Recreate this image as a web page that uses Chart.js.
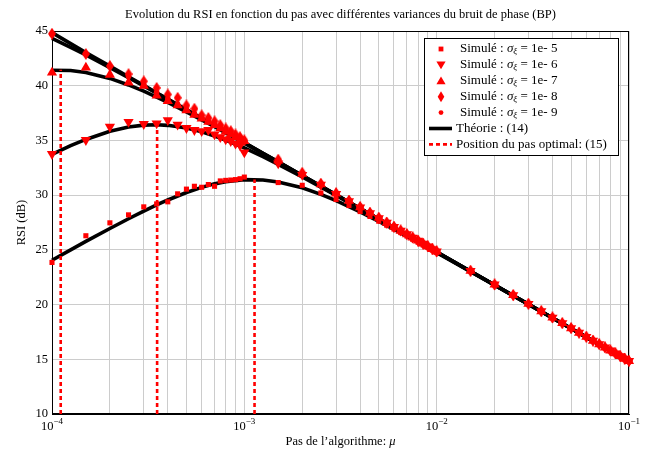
<!DOCTYPE html>
<html>
<head>
<meta charset="utf-8">
<script src="https://cdn.jsdelivr.net/npm/chart.js@4.4.1/dist/chart.umd.min.js"></script>
<style>
    html, body { margin: 0; padding: 0; background: #fff; }
</style>
</head>
<body>
<canvas id="rsi" width="655" height="452"></canvas>
<script>
// step sizes used for the simulations
const mu = [
    1e-4, 1.5e-4, 2e-4, 2.5e-4, 3e-4, 3.5e-4, 4e-4, 4.5e-4, 5e-4, 5.5e-4, 6e-4, 6.5e-4, 7e-4, 7.5e-4, 8e-4, 8.5e-4, 9e-4, 9.5e-4,
    1e-3, 1.5e-3, 2e-3, 2.5e-3, 3e-3, 3.5e-3, 4e-3, 4.5e-3, 5e-3, 5.5e-3, 6e-3, 6.5e-3, 7e-3, 7.5e-3, 8e-3, 8.5e-3, 9e-3, 9.5e-3,
    1e-2, 1.5e-2, 2e-2, 2.5e-2, 3e-2, 3.5e-2, 4e-2, 4.5e-2, 5e-2, 5.5e-2, 6e-2, 6.5e-2, 7e-2, 7.5e-2, 8e-2, 8.5e-2, 9e-2, 9.5e-2,
    1e-1
];

// simulated RSI (dB), one list per phase noise variance
const sim5 = [
    23.85, 26.29, 27.47, 28.20, 28.93, 29.20, 29.39, 30.12, 30.55, 30.81, 30.72, 30.97, 30.81, 31.30, 31.35, 31.38, 31.42, 31.50,
    31.65, 31.15, 30.90, 30.20, 29.60, 29.05, 28.50, 28.05, 27.62, 27.25, 26.90, 26.58, 26.27, 25.97, 25.70, 25.45, 25.22, 24.98,
    24.76, 23.05, 21.80, 20.82, 20.03, 19.37, 18.78, 18.28, 17.81, 17.40, 17.03, 16.68, 16.35, 16.06, 15.78, 15.51, 15.27, 15.03,
    14.82
];
const sim6 = [
    33.76, 35.04, 36.25, 36.70, 36.50, 36.55, 36.85, 36.44, 36.13, 35.95, 35.85, 35.95, 35.55, 35.30, 35.10, 34.95, 34.70, 34.55,
    33.90, 32.90, 31.85, 30.95, 30.12, 29.45, 28.88, 28.36, 27.90, 27.48, 27.10, 26.75, 26.42, 26.12, 25.83, 25.57, 25.32, 25.07,
    24.85, 23.08, 21.83, 20.85, 20.06, 19.39, 18.81, 18.30, 17.84, 17.43, 17.05, 16.70, 16.38, 16.08, 15.80, 15.54, 15.29, 15.05,
    14.84
];
const sim7 = [
    41.20, 41.66, 41.00, 40.30, 40.00, 39.10, 38.60, 38.20, 37.75, 37.35, 37.00, 36.70, 36.40, 36.10, 35.80, 35.55, 35.30, 35.05,
    34.95, 33.15, 31.95, 31.00, 30.15, 29.48, 28.90, 28.38, 27.92, 27.48, 27.10, 26.75, 26.42, 26.12, 25.84, 25.57, 25.32, 25.08,
    24.85, 23.08, 21.83, 20.86, 20.06, 19.39, 18.81, 18.30, 17.84, 17.43, 17.05, 16.70, 16.38, 16.08, 15.80, 15.54, 15.29, 15.05,
    14.84
];
const sim8 = [
    44.75, 42.90, 41.80, 41.06, 40.40, 39.80, 39.20, 38.90, 38.20, 37.90, 37.30, 37.05, 36.75, 36.40, 36.10, 35.85, 35.55, 35.30,
    35.00, 33.25, 32.05, 31.05, 30.18, 29.50, 28.92, 28.40, 27.93, 27.50, 27.12, 26.77, 26.44, 26.13, 25.85, 25.58, 25.33, 25.09,
    24.86, 23.09, 21.84, 20.87, 20.07, 19.40, 18.82, 18.31, 17.85, 17.44, 17.06, 16.71, 16.39, 16.09, 15.81, 15.55, 15.30, 15.06,
    14.85
];
const sim9 = [
    44.70, 42.95, 41.75, 40.85, 40.05, 39.40, 38.80, 38.30, 37.85, 37.45, 37.05, 36.70, 36.40, 36.10, 35.80, 35.55, 35.30, 35.05,
    34.90, 33.12, 31.95, 31.00, 30.15, 29.47, 28.89, 28.37, 27.91, 27.48, 27.10, 26.75, 26.42, 26.12, 25.83, 25.57, 25.32, 25.07,
    24.84, 23.08, 21.83, 20.85, 20.06, 19.39, 18.81, 18.30, 17.84, 17.43, 17.05, 16.70, 16.38, 16.08, 15.80, 15.54, 15.29, 15.05,
    14.83
];

// theory curves (14)
const thMu = [1e-4, 1.25e-4, 1.5e-4, 2e-4, 2.5e-4, 3e-4, 3.5e-4, 4e-4, 5e-4, 6e-4, 7e-4, 8e-4, 1e-3,
    1.25e-3, 1.5e-3, 2e-3, 2.5e-3, 3e-3, 4e-3, 5e-3, 7e-3, 1e-2, 2e-2, 5e-2, 1e-1];
const th5 = [24.05, 25.00, 25.77, 26.95, 27.84, 28.54, 29.10, 29.56, 30.24, 30.71, 31.03, 31.23, 31.42,
    31.39, 31.21, 30.67, 30.07, 29.50, 28.47, 27.61, 26.25, 24.75, 21.78, 17.81, 14.80];
const th6 = [33.73, 34.52, 35.09, 35.83, 36.22, 36.40, 36.43, 36.38, 36.13, 35.79, 35.41, 35.04, 34.32,
    33.51, 32.82, 31.66, 30.74, 29.97, 28.75, 27.79, 26.34, 24.80, 21.79, 17.81, 14.80];
const th7 = [41.42, 41.39, 41.21, 40.67, 40.07, 39.50, 38.96, 38.47, 37.61, 36.88, 36.25, 35.69, 34.75,
    33.80, 33.02, 31.78, 30.81, 30.02, 28.78, 27.81, 26.35, 24.80, 21.79, 17.81, 14.80];
const th8 = [44.32, 43.51, 42.82, 41.66, 40.74, 39.97, 39.32, 38.75, 37.79, 37.01, 36.34, 35.76, 34.79,
    33.83, 33.04, 31.79, 30.82, 30.03, 28.78, 27.81, 26.35, 24.80, 21.79, 17.81, 14.80];
const th9 = [44.85, 43.85, 43.04, 41.79, 40.82, 40.03, 39.36, 38.78, 37.81, 37.02, 36.35, 35.77, 34.80,
    33.83, 33.04, 31.79, 30.82, 30.03, 28.78, 27.81, 26.35, 24.80, 21.79, 17.81, 14.80];

// optimal step (15) and the RSI reached there
const optMu = [1.11e-4, 3.52e-4, 1.13e-3];
const optRsi = [41.45, 36.45, 31.42];

const yTicks = [10, 15, 20, 25, 30, 35, 40, 45];
const xDecades = [-4, -3, -2, -1];
const variances = ['5', '6', '7', '8', '9'];

const SERIF = '"Liberation Serif", "Times New Roman", serif';
const RED = '#ff0000';

function diamond(w, h) {
    const c = document.createElement('canvas');
    c.width = w;
    c.height = h;
    const g = c.getContext('2d');
    g.fillStyle = RED;
    g.beginPath();
    g.moveTo(w / 2, 0);
    g.lineTo(w, h / 2);
    g.lineTo(w / 2, h);
    g.lineTo(0, h / 2);
    g.closePath();
    g.fill();
    return c;
}

const pts = (xs, ys) => xs.map((x, i) => ({x: x, y: ys[i]}));

const markers = [
    {pointStyle: 'rect', pointRadius: 3.6, pointRotation: 0},
    {pointStyle: 'triangle', pointRadius: 5.9, pointRotation: 180},
    {pointStyle: 'triangle', pointRadius: 5.9, pointRotation: 0},
    {pointStyle: diamond(8, 12), pointRadius: 6, pointRotation: 0},
    {pointStyle: 'circle', pointRadius: 2.8, pointRotation: 0}
];

const datasets = [];
[sim5, sim6, sim7, sim8, sim9].forEach((s, i) => {
    datasets.push(Object.assign({
        data: pts(mu, s),
        showLine: false,
        backgroundColor: RED,
        borderColor: RED,
        pointBorderWidth: 0,
        clip: false,
        order: 5 - i
    }, markers[i]));
});
[th5, th6, th7, th8, th9].forEach(t => {
    datasets.push({
        data: pts(thMu, t),
        showLine: true,
        borderColor: '#000',
        borderWidth: 3.6,
        pointRadius: 0,
        tension: 0,
        clip: false,
        order: 20
    });
});
optMu.forEach((m, i) => {
    datasets.push({
        data: [{x: m, y: 10}, {x: m, y: optRsi[i]}],
        showLine: true,
        borderColor: RED,
        borderWidth: 2.6,
        borderDash: [4, 3],
        borderCapStyle: 'butt',
        pointRadius: 0,
        order: 15
    });
});

function legendMarker(ctx, i, x, y) {
    ctx.fillStyle = RED;
    ctx.beginPath();
    if (i === 0) {
        ctx.rect(x - 2.4, y - 2.4, 4.8, 4.8);
    } else if (i === 1) {
        ctx.moveTo(x - 4.6, y - 3.4); ctx.lineTo(x + 4.6, y - 3.4); ctx.lineTo(x, y + 4.4);
    } else if (i === 2) {
        ctx.moveTo(x - 4.6, y + 3.4); ctx.lineTo(x + 4.6, y + 3.4); ctx.lineTo(x, y - 4.4);
    } else if (i === 3) {
        ctx.moveTo(x, y - 5.5); ctx.lineTo(x + 3.3, y); ctx.lineTo(x, y + 5.5); ctx.lineTo(x - 3.3, y);
    } else {
        ctx.arc(x, y, 2.4, 0, Math.PI * 2);
    }
    ctx.closePath();
    ctx.fill();
}

const decor = {
    id: 'decor',
    beforeDatasetsDraw(chart) {
        const {ctx, chartArea: a} = chart;
        ctx.save();
        ctx.strokeStyle = '#000';
        ctx.lineWidth = 1;
        ctx.strokeRect(a.left + 0.5, a.top + 0.5, a.right - a.left - 1, a.bottom - a.top - 1);
        ctx.restore();
    },
    afterDraw(chart) {
        const {ctx, chartArea: a} = chart;
        const xs = chart.scales.x;
        const cx = (a.left + a.right) / 2;
        ctx.save();
        ctx.fillStyle = '#000';
        ctx.textBaseline = 'alphabetic';

        // title and axis titles
        ctx.font = '12.5px ' + SERIF;
        ctx.textAlign = 'center';
        ctx.fillText('Evolution du RSI en fonction du pas avec différentes variances du bruit de phase (BP)', cx, 18);

        const xt1 = 'Pas de l\u2019algorithme: ';
        ctx.font = '12.5px ' + SERIF;
        const w1 = ctx.measureText(xt1).width;
        ctx.font = 'italic 12.5px ' + SERIF;
        const w2 = ctx.measureText('\u03bc').width;
        ctx.textAlign = 'left';
        ctx.font = '12.5px ' + SERIF;
        ctx.fillText(xt1, cx - (w1 + w2) / 2, 445);
        ctx.font = 'italic 12.5px ' + SERIF;
        ctx.fillText('\u03bc', cx - (w1 + w2) / 2 + w1, 445);

        ctx.save();
        ctx.translate(21, (a.top + a.bottom) / 2);
        ctx.rotate(-Math.PI / 2);
        ctx.textAlign = 'center';
        ctx.font = '12.5px ' + SERIF;
        ctx.fillText('RSI (dB)', 0, 4);
        ctx.restore();

        // decade tick labels 10^e
        xDecades.forEach(e => {
            const px = xs.getPixelForValue(Math.pow(10, e));
            ctx.font = '12.5px ' + SERIF;
            const b = ctx.measureText('10').width;
            const sup = '\u2212' + Math.abs(e);
            ctx.font = '9px ' + SERIF;
            const s = ctx.measureText(sup).width;
            const x0 = px - (b + s) / 2;
            ctx.textAlign = 'left';
            ctx.font = '12.5px ' + SERIF;
            ctx.fillText('10', x0, 430);
            ctx.font = '9px ' + SERIF;
            ctx.fillText(sup, x0 + b, 424);
        });

        // legend
        const L = 424, T = 38, R = 619, B = 156;
        ctx.fillStyle = '#fff';
        ctx.fillRect(L, T, R - L, B - T);
        ctx.strokeStyle = '#000';
        ctx.lineWidth = 1;
        ctx.strokeRect(L + 0.5, T + 0.5, R - L - 1, B - T - 1);
        const rowY = i => 49 + 15.9 * i;
        ctx.textBaseline = 'middle';
        ctx.textAlign = 'left';
        variances.forEach((v, i) => {
            const y = rowY(i);
            legendMarker(ctx, i, 441, y);
            ctx.fillStyle = '#000';
            let x = 460;
            ctx.font = '13px ' + SERIF;
            ctx.fillText('Simulé : ', x, y);
            x += ctx.measureText('Simulé : ').width;
            ctx.font = 'italic 13px ' + SERIF;
            ctx.fillText('\u03c3', x, y);
            x += ctx.measureText('\u03c3').width;
            ctx.font = 'italic 9px ' + SERIF;
            ctx.fillText('\u03be', x, y + 3);
            x += ctx.measureText('\u03be').width;
            ctx.font = '13px ' + SERIF;
            ctx.fillText(' = 1e- ' + v, x, y);
        });
        let y = rowY(5);
        ctx.strokeStyle = '#000';
        ctx.lineWidth = 3.6;
        ctx.beginPath(); ctx.moveTo(429, y); ctx.lineTo(452, y); ctx.stroke();
        ctx.fillStyle = '#000';
        ctx.font = '13px ' + SERIF;
        ctx.fillText('Théorie : (14)', 456, y);
        y = rowY(6);
        ctx.strokeStyle = RED;
        ctx.lineWidth = 2.6;
        ctx.setLineDash([4, 3]);
        ctx.beginPath(); ctx.moveTo(429, y); ctx.lineTo(452, y); ctx.stroke();
        ctx.setLineDash([]);
        ctx.fillText('Position du pas optimal: (15)', 456, y);
        ctx.restore();
    }
};

new Chart(document.getElementById('rsi'), {
    type: 'scatter',
    data: {datasets: datasets},
    options: {
        responsive: false,
        animation: false,
        devicePixelRatio: 1,
        layout: {padding: {top: 31, right: 26, left: 0, bottom: 0}},
        plugins: {legend: {display: false}, tooltip: {enabled: false}},
        scales: {
            x: {
                type: 'logarithmic',
                min: 1e-4,
                max: 1e-1,
                afterBuildTicks: scale => {
                    const ticks = [];
                    xDecades.forEach(e => {
                        for (let m = 1; m <= 9; m++) {
                            const v = m * Math.pow(10, e - 1);
                            if (v >= 1e-4 - 1e-12) ticks.push({value: v});
                        }
                    });
                    ticks.push({value: 1e-1});
                    scale.ticks = ticks;
                },
                afterFit: scale => { scale.height = 38; },
                ticks: {callback: () => '', autoSkip: false, maxRotation: 0},
                grid: {color: '#cccccc', lineWidth: 1, drawTicks: false},
                border: {color: '#000', width: 1}
            },
            y: {
                min: 10,
                max: 45,
                afterBuildTicks: scale => { scale.ticks = yTicks.map(v => ({value: v})); },
                afterFit: scale => { scale.width = 52; },
                ticks: {color: '#000', padding: 4, font: {family: SERIF, size: 12.5}},
                grid: {color: '#cccccc', lineWidth: 1, drawTicks: false},
                border: {color: '#000', width: 1}
            }
        }
    },
    plugins: [decor]
});
</script>
</body>
</html>
